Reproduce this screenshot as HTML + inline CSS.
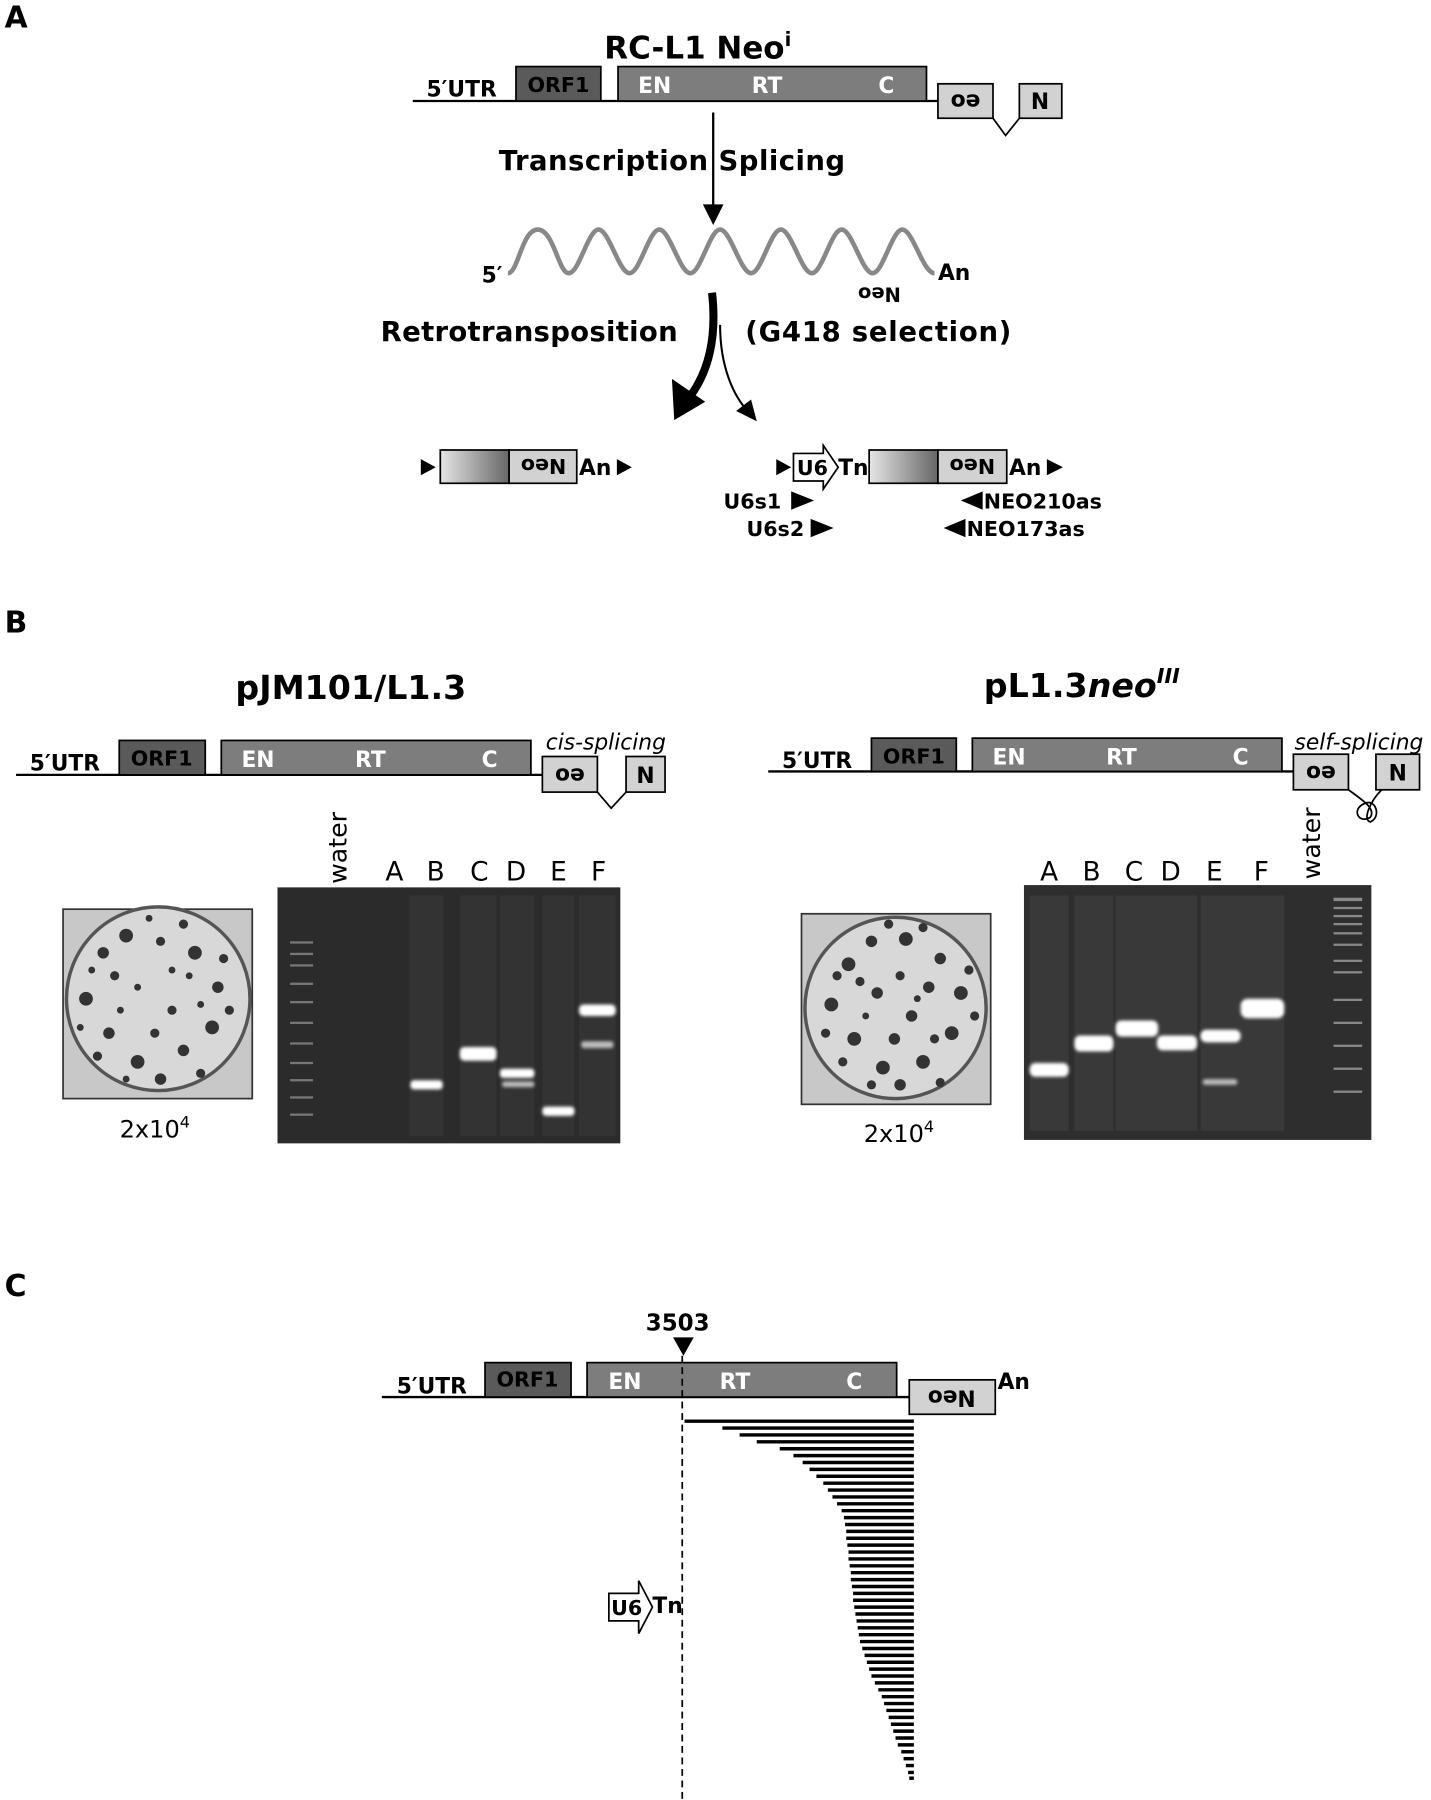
<!DOCTYPE html>
<html><head><meta charset="utf-8"><style>
html,body{margin:0;padding:0;background:#fff;}
svg{display:block;}
text{font-family:"DejaVu Sans","Liberation Sans",sans-serif;}
.b{font-weight:bold;}
</style></head><body>
<svg width="1431" height="1800" viewBox="0 0 1248 1568" preserveAspectRatio="none" xmlns="http://www.w3.org/2000/svg">
<defs>
<linearGradient id="g1" x1="0" x2="1" y1="0" y2="0"><stop offset="0" stop-color="#e6e6e6"/><stop offset="1" stop-color="#666"/></linearGradient>
<filter id="bl"><feGaussianBlur stdDeviation="1.5"/></filter>
</defs>
<!-- A -->
<text x="4" y="24" class="b" font-size="26">A</text>
<text x="527" y="51" class="b" font-size="27">RC-L1 Neo<tspan font-size="17" dy="-11">i</tspan></text>
<line x1="360" y1="88" x2="818" y2="88" stroke="#000" stroke-width="2"/>
<text x="372" y="84" class="b" font-size="19">5′UTR</text>
<rect x="450" y="58" width="74" height="30" fill="#5a5a5a" stroke="#000" stroke-width="1.5"/>
<text x="487" y="80" class="b" font-size="18" text-anchor="middle">ORF1</text>
<rect x="539" y="58" width="269" height="30" fill="#7d7d7d" stroke="#000" stroke-width="1.5"/>
<text x="571" y="81" class="b" font-size="19" fill="#fff" text-anchor="middle">EN</text>
<text x="669" y="81" class="b" font-size="19" fill="#fff" text-anchor="middle">RT</text>
<text x="773" y="81" class="b" font-size="19" fill="#fff" text-anchor="middle">C</text>
<rect x="818" y="73" width="48" height="30" fill="#d2d2d2" stroke="#000" stroke-width="1.5"/>
<text transform="translate(842,88) rotate(180)" class="b" font-size="19" text-anchor="middle" dominant-baseline="central">eo</text>
<rect x="889" y="73" width="37" height="30" fill="#d2d2d2" stroke="#000" stroke-width="1.5"/>
<text x="907" y="95" class="b" font-size="19" text-anchor="middle">N</text>
<polyline points="866,103 877,118 889,103" fill="none" stroke="#000" stroke-width="1.5"/>
<line x1="622" y1="98" x2="622" y2="180" stroke="#000" stroke-width="2"/>
<polygon points="613,178 631,178 622,196" fill="#000"/>
<text x="435" y="148" class="b" font-size="24" textLength="302" lengthAdjust="spacing">Transcription Splicing</text>
<path d="M443,238 C452,238 455,200 469,200 S487,238 496,238 S513,200 522,200 S540,238 549,238 S566,200 575,200 S593,238 602,238 S619,200 628,200 S646,238 655,238 S672,200 681,200 S699,238 708,238 S725,200 734,200 S752,238 761,238 S778,200 787,200 S805,238 815,238" fill="none" stroke="#888" stroke-width="4"/>
<text x="420" y="246" class="b" font-size="19">5′</text>
<text x="818" y="244" class="b" font-size="19">An</text>
<text transform="translate(767,256) rotate(180)" class="b" font-size="17" text-anchor="middle" dominant-baseline="central">Neo</text>
<path d="M621,255 C626,300 615,330 598,350" fill="none" stroke="#000" stroke-width="7"/>
<polygon points="588,366 586,330 615,350" fill="#000"/>
<path d="M628,283 C628,320 640,345 652,358" fill="none" stroke="#000" stroke-width="1.8"/>
<polygon points="660,367 642,358 655,348" fill="#000"/>
<text x="332" y="297" class="b" font-size="24" textLength="259" lengthAdjust="spacing">Retrotransposition</text>
<text x="650" y="297" class="b" font-size="24" textLength="232" lengthAdjust="spacing">(G418 selection)</text>
<!-- bottom left insert -->
<polygon points="367,400 380,407 367,414" fill="#000"/>
<rect x="384" y="392" width="60" height="29" fill="url(#g1)" stroke="#000" stroke-width="1.5"/>
<rect x="444" y="392" width="59" height="29" fill="#d2d2d2" stroke="#000" stroke-width="1.5"/>
<text transform="translate(474,406) rotate(180)" class="b" font-size="18" text-anchor="middle" dominant-baseline="central">Neo</text>
<text x="505" y="414" class="b" font-size="19">An</text>
<polygon points="538,400 551,407 538,414" fill="#000"/>
<!-- bottom right insert -->
<polygon points="677,400 690,407 677,414" fill="#000"/>
<polygon points="692,395 718,395 718,388 731,407 718,426 718,419 692,419" fill="#fff" stroke="#000" stroke-width="1.5"/>
<text x="695" y="414" class="b" font-size="18">U6</text>
<text x="731" y="414" class="b" font-size="19">Tn</text>
<rect x="758" y="392" width="60" height="29" fill="url(#g1)" stroke="#000" stroke-width="1.5"/>
<rect x="818" y="392" width="60" height="29" fill="#d2d2d2" stroke="#000" stroke-width="1.5"/>
<text transform="translate(848,406) rotate(180)" class="b" font-size="18" text-anchor="middle" dominant-baseline="central">Neo</text>
<text x="880" y="414" class="b" font-size="19">An</text>
<polygon points="913,400 927,407 913,414" fill="#000"/>
<text x="631" y="443" class="b" font-size="18">U6s1</text>
<polygon points="690,428 710,436 690,444" fill="#000"/>
<text x="651" y="467" class="b" font-size="18">U6s2</text>
<polygon points="707,452 727,460 707,468" fill="#000"/>
<polygon points="857,428 838,436 857,444" fill="#000"/>
<text x="858" y="443" class="b" font-size="18">NEO210as</text>
<polygon points="842,452 823,460 842,468" fill="#000"/>
<text x="843" y="467" class="b" font-size="18">NEO173as</text>

<!-- B -->
<text x="4" y="551" class="b" font-size="26">B</text>
<text x="306" y="609" class="b" font-size="29" text-anchor="middle">pJM101/L1.3</text>
<line x1="14" y1="675" x2="473" y2="675" stroke="#000" stroke-width="2"/>
<text x="26" y="671" class="b" font-size="19">5′UTR</text>
<rect x="104" y="645" width="75" height="30" fill="#5a5a5a" stroke="#000" stroke-width="1.5"/>
<text x="141" y="667" class="b" font-size="18" text-anchor="middle">ORF1</text>
<rect x="193" y="645" width="270" height="30" fill="#7d7d7d" stroke="#000" stroke-width="1.5"/>
<text x="225" y="668" class="b" font-size="19" fill="#fff" text-anchor="middle">EN</text>
<text x="323" y="668" class="b" font-size="19" fill="#fff" text-anchor="middle">RT</text>
<text x="427" y="668" class="b" font-size="19" fill="#fff" text-anchor="middle">C</text>
<rect x="473" y="659" width="48" height="31" fill="#d2d2d2" stroke="#000" stroke-width="1.5"/>
<text transform="translate(497,675) rotate(180)" class="b" font-size="19" text-anchor="middle" dominant-baseline="central">eo</text>
<rect x="546" y="659" width="34" height="31" fill="#d2d2d2" stroke="#000" stroke-width="1.5"/>
<text x="563" y="682" class="b" font-size="19" text-anchor="middle">N</text>
<polyline points="521,690 533,704 546,690" fill="none" stroke="#000" stroke-width="1.5"/>
<text x="476" y="653" font-style="italic" font-size="19">cis-splicing</text>

<text x="858" y="607" class="b" font-size="29">pL1.3<tspan font-style="italic">neo</tspan><tspan font-style="italic" font-size="18" dy="-12">III</tspan></text>
<line x1="670" y1="672" x2="1128" y2="672" stroke="#000" stroke-width="2"/>
<text x="682" y="669" class="b" font-size="19">5′UTR</text>
<rect x="760" y="643" width="74" height="29" fill="#5a5a5a" stroke="#000" stroke-width="1.5"/>
<text x="797" y="665" class="b" font-size="18" text-anchor="middle">ORF1</text>
<rect x="848" y="643" width="270" height="29" fill="#7d7d7d" stroke="#000" stroke-width="1.5"/>
<text x="880" y="666" class="b" font-size="19" fill="#fff" text-anchor="middle">EN</text>
<text x="978" y="666" class="b" font-size="19" fill="#fff" text-anchor="middle">RT</text>
<text x="1082" y="666" class="b" font-size="19" fill="#fff" text-anchor="middle">C</text>
<rect x="1128" y="657" width="48" height="31" fill="#d2d2d2" stroke="#000" stroke-width="1.5"/>
<text transform="translate(1152,673) rotate(180)" class="b" font-size="19" text-anchor="middle" dominant-baseline="central">eo</text>
<rect x="1200" y="657" width="38" height="31" fill="#d2d2d2" stroke="#000" stroke-width="1.5"/>
<text x="1219" y="680" class="b" font-size="19" text-anchor="middle">N</text>
<path d="M1176,688 C1190,698 1200,705 1195,712 C1185,718 1178,705 1190,700 C1200,695 1205,712 1195,716 C1188,714 1195,698 1205,688" fill="none" stroke="#000" stroke-width="1.5"/>
<text x="1129" y="653" font-style="italic" font-size="19">self-splicing</text>

<!-- plates -->
<rect x="55" y="792" width="165" height="165" fill="#c8c8c8" stroke="#333" stroke-width="1.5"/>
<circle cx="138" cy="870" r="80" fill="#d8d8d8" stroke="#555" stroke-width="3"/>
<g fill="#333">
<circle cx="90" cy="830" r="5"/><circle cx="110" cy="815" r="6"/><circle cx="140" cy="820" r="4"/><circle cx="170" cy="830" r="6"/><circle cx="190" cy="860" r="5"/><circle cx="75" cy="870" r="6"/><circle cx="95" cy="900" r="5"/><circle cx="120" cy="925" r="6"/><circle cx="160" cy="915" r="5"/><circle cx="185" cy="895" r="6"/><circle cx="150" cy="880" r="4"/><circle cx="120" cy="860" r="3"/><circle cx="165" cy="850" r="3"/><circle cx="100" cy="850" r="4"/><circle cx="135" cy="900" r="4"/><circle cx="80" cy="845" r="3"/><circle cx="195" cy="835" r="4"/><circle cx="140" cy="940" r="5"/><circle cx="175" cy="935" r="4"/><circle cx="85" cy="920" r="4"/><circle cx="200" cy="880" r="4"/><circle cx="130" cy="800" r="3"/><circle cx="160" cy="805" r="4"/><circle cx="70" cy="895" r="3"/><circle cx="110" cy="940" r="3"/><circle cx="105" cy="880" r="3"/><circle cx="175" cy="875" r="3"/><circle cx="150" cy="845" r="3"/>
</g>
<text x="135" y="991" font-size="21" text-anchor="middle">2x10<tspan font-size="14" dy="-9">4</tspan></text>
<rect x="699" y="796" width="165" height="166" fill="#c8c8c8" stroke="#333" stroke-width="1.5"/>
<circle cx="781" cy="878" r="79" fill="#d8d8d8" stroke="#555" stroke-width="3"/>
<g fill="#333">
<circle cx="740" cy="840" r="6"/><circle cx="760" cy="820" r="5"/><circle cx="790" cy="818" r="6"/><circle cx="820" cy="835" r="5"/><circle cx="838" cy="865" r="6"/><circle cx="725" cy="875" r="6"/><circle cx="745" cy="905" r="6"/><circle cx="770" cy="930" r="6"/><circle cx="805" cy="925" r="6"/><circle cx="830" cy="900" r="6"/><circle cx="795" cy="885" r="5"/><circle cx="765" cy="865" r="5"/><circle cx="810" cy="860" r="5"/><circle cx="750" cy="855" r="4"/><circle cx="780" cy="905" r="5"/><circle cx="730" cy="850" r="4"/><circle cx="845" cy="845" r="4"/><circle cx="785" cy="945" r="5"/><circle cx="820" cy="943" r="4"/><circle cx="735" cy="925" r="4"/><circle cx="850" cy="885" r="4"/><circle cx="775" cy="805" r="4"/><circle cx="805" cy="808" r="4"/><circle cx="720" cy="900" r="4"/><circle cx="760" cy="945" r="4"/><circle cx="785" cy="850" r="4"/><circle cx="815" cy="905" r="4"/><circle cx="755" cy="885" r="3"/><circle cx="800" cy="870" r="3"/>
</g>
<text x="784" y="995" font-size="21" text-anchor="middle">2x10<tspan font-size="14" dy="-9">4</tspan></text>

<!-- gel left -->
<rect x="242" y="773" width="299" height="223" fill="#2b2b2b"/>
<g fill="#333"><rect x="357" y="780" width="30" height="210"/><rect x="401" y="780" width="32" height="210"/><rect x="436" y="780" width="30" height="210"/><rect x="473" y="780" width="28" height="210"/><rect x="505" y="780" width="32" height="210"/></g>
<g fill="#777"><rect x="253" y="820" width="20" height="2"/><rect x="253" y="830" width="20" height="2"/><rect x="253" y="840" width="20" height="2"/><rect x="253" y="856" width="20" height="2"/><rect x="253" y="872" width="20" height="2"/><rect x="253" y="890" width="20" height="2"/><rect x="253" y="908" width="20" height="2"/><rect x="253" y="925" width="20" height="2"/><rect x="253" y="940" width="20" height="2"/><rect x="253" y="955" width="20" height="2"/><rect x="253" y="970" width="20" height="2"/></g>
<g fill="#fff" filter="url(#bl)">
<rect x="358" y="941" width="28" height="8" rx="3"/>
<rect x="401" y="912" width="32" height="12" rx="4"/>
<rect x="436" y="931" width="30" height="8" rx="3"/><rect x="438" y="942" width="28" height="5" rx="2" fill="#bbb"/>
<rect x="473" y="964" width="28" height="8" rx="3"/>
<rect x="505" y="875" width="32" height="10" rx="4"/><rect x="507" y="907" width="28" height="6" rx="2" fill="#bbb"/>
</g>
<text transform="translate(302,770) rotate(-90)" font-size="22" font-family="Liberation Sans">water</text>
<g font-size="23" font-family="Liberation Sans" text-anchor="middle"><text x="344" y="767">A</text><text x="380" y="767">B</text><text x="418" y="767">C</text><text x="450" y="767">D</text><text x="487" y="767">E</text><text x="522" y="767">F</text></g>

<!-- gel right -->
<rect x="893" y="771" width="303" height="222" fill="#2e2e2e"/>
<g fill="#393939"><rect x="898" y="780" width="34" height="205"/><rect x="937" y="780" width="34" height="205"/><rect x="973" y="780" width="37" height="205"/><rect x="1009" y="780" width="35" height="205"/><rect x="1047" y="780" width="35" height="205"/><rect x="1082" y="780" width="38" height="205"/></g>
<g fill="#888"><rect x="1163" y="782" width="25" height="3"/><rect x="1163" y="790" width="25" height="2"/><rect x="1163" y="797" width="25" height="2"/><rect x="1163" y="804" width="25" height="2"/><rect x="1163" y="812" width="25" height="2"/><rect x="1163" y="822" width="25" height="2"/><rect x="1163" y="836" width="25" height="2"/><rect x="1163" y="846" width="25" height="2"/><rect x="1163" y="870" width="25" height="2"/><rect x="1163" y="890" width="25" height="2"/><rect x="1163" y="910" width="25" height="2"/><rect x="1163" y="930" width="25" height="2"/><rect x="1163" y="950" width="25" height="2"/></g>
<g fill="#fff" filter="url(#bl)">
<rect x="898" y="926" width="34" height="12" rx="5"/>
<rect x="937" y="902" width="34" height="14" rx="5"/>
<rect x="973" y="889" width="37" height="14" rx="5"/>
<rect x="1009" y="902" width="35" height="13" rx="5"/>
<rect x="1047" y="897" width="35" height="11" rx="5"/><rect x="1049" y="940" width="30" height="5" rx="2" fill="#bbb"/>
<rect x="1082" y="870" width="38" height="17" rx="6"/>
</g>
<text transform="translate(1151,766) rotate(-90)" font-size="22" font-family="Liberation Sans">water</text>
<g font-size="23" font-family="Liberation Sans" text-anchor="middle"><text x="915" y="767">A</text><text x="952" y="767">B</text><text x="989" y="767">C</text><text x="1021" y="767">D</text><text x="1059" y="767">E</text><text x="1100" y="767">F</text></g>

<!-- C -->
<text x="4" y="1129" class="b" font-size="26">C</text>
<text x="591" y="1159" class="b" font-size="20" text-anchor="middle">3503</text>
<polygon points="587,1165 605,1165 596,1181" fill="#000"/>
<line x1="333" y1="1217" x2="793" y2="1217" stroke="#000" stroke-width="2"/>
<text x="346" y="1214" class="b" font-size="19">5′UTR</text>
<rect x="423" y="1187" width="75" height="30" fill="#5a5a5a" stroke="#000" stroke-width="1.5"/>
<text x="460" y="1208" class="b" font-size="18" text-anchor="middle">ORF1</text>
<rect x="512" y="1187" width="270" height="30" fill="#7d7d7d" stroke="#000" stroke-width="1.5"/>
<text x="545" y="1210" class="b" font-size="19" fill="#fff" text-anchor="middle">EN</text>
<text x="641" y="1210" class="b" font-size="19" fill="#fff" text-anchor="middle">RT</text>
<text x="745" y="1210" class="b" font-size="19" fill="#fff" text-anchor="middle">C</text>
<rect x="793" y="1202" width="75" height="30" fill="#d2d2d2" stroke="#000" stroke-width="1.5"/>
<text transform="translate(830,1217) rotate(180)" class="b" font-size="19" text-anchor="middle" dominant-baseline="central">Neo</text>
<text x="870" y="1210" class="b" font-size="19">An</text>
<line x1="595" y1="1181" x2="595" y2="1568" stroke="#000" stroke-width="1.5" stroke-dasharray="6,4"/>
<g stroke="#000" stroke-width="3">
<line x1="597" y1="1238" x2="797" y2="1238"/><line x1="630" y1="1244" x2="797" y2="1244"/><line x1="645" y1="1250" x2="797" y2="1250"/><line x1="660" y1="1256" x2="797" y2="1256"/><line x1="680" y1="1262" x2="797" y2="1262"/><line x1="692" y1="1268" x2="797" y2="1268"/><line x1="700" y1="1274" x2="797" y2="1274"/><line x1="706" y1="1280" x2="797" y2="1280"/><line x1="712" y1="1286" x2="797" y2="1286"/><line x1="718" y1="1292" x2="797" y2="1292"/><line x1="722" y1="1298" x2="797" y2="1298"/><line x1="726" y1="1304" x2="797" y2="1304"/><line x1="730" y1="1310" x2="797" y2="1310"/><line x1="734" y1="1316" x2="797" y2="1316"/><line x1="736" y1="1322" x2="797" y2="1322"/><line x1="737" y1="1328" x2="797" y2="1328"/><line x1="738" y1="1334" x2="797" y2="1334"/><line x1="738" y1="1340" x2="797" y2="1340"/><line x1="739" y1="1346" x2="797" y2="1346"/><line x1="740" y1="1352" x2="797" y2="1352"/><line x1="740" y1="1358" x2="797" y2="1358"/><line x1="741" y1="1364" x2="797" y2="1364"/><line x1="742" y1="1370" x2="797" y2="1370"/><line x1="742" y1="1376" x2="797" y2="1376"/><line x1="743" y1="1382" x2="797" y2="1382"/><line x1="744" y1="1388" x2="797" y2="1388"/><line x1="744" y1="1394" x2="797" y2="1394"/><line x1="745" y1="1400" x2="797" y2="1400"/><line x1="746" y1="1406" x2="797" y2="1406"/><line x1="747" y1="1412" x2="797" y2="1412"/><line x1="748" y1="1418" x2="797" y2="1418"/><line x1="749" y1="1424" x2="797" y2="1424"/><line x1="750" y1="1430" x2="797" y2="1430"/><line x1="752" y1="1436" x2="797" y2="1436"/><line x1="754" y1="1442" x2="797" y2="1442"/><line x1="756" y1="1448" x2="797" y2="1448"/><line x1="758" y1="1454" x2="797" y2="1454"/><line x1="760" y1="1460" x2="797" y2="1460"/><line x1="763" y1="1466" x2="797" y2="1466"/><line x1="766" y1="1472" x2="797" y2="1472"/><line x1="769" y1="1478" x2="797" y2="1478"/><line x1="771" y1="1484" x2="797" y2="1484"/><line x1="773" y1="1490" x2="797" y2="1490"/><line x1="775" y1="1496" x2="797" y2="1496"/><line x1="777" y1="1502" x2="797" y2="1502"/><line x1="779" y1="1508" x2="797" y2="1508"/><line x1="781" y1="1514" x2="797" y2="1514"/><line x1="783" y1="1520" x2="797" y2="1520"/><line x1="786" y1="1526" x2="797" y2="1526"/><line x1="788" y1="1532" x2="797" y2="1532"/><line x1="790" y1="1538" x2="797" y2="1538"/><line x1="792" y1="1544" x2="797" y2="1544"/><line x1="793" y1="1549" x2="797" y2="1549"/>
</g>
<polygon points="531,1388 557,1388 557,1377 569,1400 557,1423 557,1412 531,1412" fill="#fff" stroke="#000" stroke-width="1.5"/>
<text x="533" y="1407" class="b" font-size="18">U6</text>
<text x="569" y="1405" class="b" font-size="19">Tn</text>
</svg>
</body></html>
